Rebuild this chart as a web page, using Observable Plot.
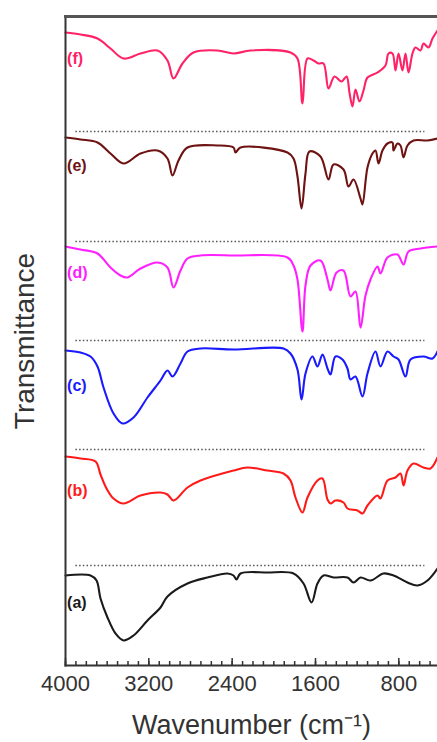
<!DOCTYPE html>
<html><head><meta charset="utf-8">
<script src="https://cdn.jsdelivr.net/npm/d3@7"></script>
<script src="https://cdn.jsdelivr.net/npm/@observablehq/plot@0.6"></script>
<style>body{margin:0;background:#fff}</style>
</head><body><div id="chart"></div>
<script>
// FTIR spectra, transmittance in arbitrary (stacked) units
const wnA = [4000,3760,3702,3664,3597,3520,3443,3347,3213,3088,3021,2829,2637,2445,2387,2358,2320,2061,1811,1715,1638,1581,1523,1427,1293,1235,1168,1072,947,851,717,621,525,429];
const tA  = [90,90,85,67,48,32,25,30,45,58,69,82,88,92,90,86,92,93,92,82,63,82,90,88,88,83,88,85,92,90,83,80,85,97];

const wnB = [4000,3856,3712,3664,3606,3539,3443,3280,3088,3021,2963,2829,2704,2387,2253,2061,1907,1840,1792,1725,1677,1581,1533,1485,1456,1408,1331,1293,1197,1149,1101,1005,976,909,832,784,755,717,659,563,496,429];
const tB  = [209,207,204,191,177,167,162,170,173,171,165,178,185,195,198,195,192,185,168,153,168,185,187,166,162,165,163,157,155,152,160,170,167,185,188,192,180,195,202,198,197,208];

const wnC = [4000,3856,3760,3693,3635,3539,3453,3347,3213,3088,3021,2973,2896,2829,2704,2387,1907,1840,1773,1734,1696,1629,1581,1533,1485,1456,1408,1341,1293,1264,1216,1149,1101,1024,976,909,851,803,736,688,563,477,429];
const tC  = [315,313,309,299,278,252,242,248,268,285,295,289,302,314,317,316,317,312,296,266,292,309,299,311,297,291,309,306,297,286,289,269,292,314,299,314,309,306,289,306,309,307,314];

const wnD = [4000,3856,3693,3568,3472,3405,3280,3117,3021,2963,2896,2829,2704,2387,1869,1811,1773,1725,1696,1648,1552,1485,1456,1398,1331,1264,1216,1168,1120,1072,1005,976,909,813,755,707,592,429];
const tD  = [419,416,412,398,390,388,397,403,398,378,395,407,410,410,408,400,386,334,380,400,405,386,375,393,395,369,374,338,370,386,399,392,408,411,401,414,417,419];

const wnE = [4000,3856,3693,3568,3443,3280,3117,3021,2973,2915,2829,2541,2387,2368,2320,1869,1811,1773,1734,1696,1658,1552,1475,1427,1331,1283,1235,1168,1149,1101,1053,1024,995,957,909,861,851,813,784,755,717,659,525,429];
const tE  = [528,526,523,512,502,512,515,507,490,505,518,520,518,513,518,513,507,489,457,492,514,509,486,501,496,479,486,467,461,498,512,515,502,515,522,523,515,522,520,508,520,525,525,527];

const wnF = [4000,3856,3693,3568,3443,3280,3117,3021,2963,2877,2771,2541,2387,2224,1840,1773,1725,1677,1619,1571,1523,1475,1418,1350,1302,1274,1245,1216,1178,1139,1101,1005,928,899,861,832,803,765,736,707,669,640,592,563,515,477,429];
const tF  = [633,631,627,617,607,612,615,605,587,602,613,615,612,615,613,607,562,607,605,602,602,577,589,584,589,573,559,576,564,575,588,593,600,612,612,595,612,595,612,593,612,618,615,622,618,627,635];

const seriesNames = ["(a)","(b)","(c)","(d)","(e)","(f)"];
const seriesColors = ["#1a1a1a","#ff1a1a","#1a1aff","#ff20ff","#6e1212","#ff2266"];
const labelY = [63,175,280,393,500,607];
const baselines = [100,216,325,424,534];
const majorTicks = [4000,3200,2400,1600,800];
const minorTicks = d3.range(4000,450,-100);

const wnAll = [wnA,wnB,wnC,wnD,wnE,wnF];
const tAll = [tA,tB,tC,tD,tE,tF];
const rows = [];
wnAll.forEach((wns,i)=>wns.forEach((w,j)=>rows.push({series:seriesNames[i], wn:w, t:tAll[i][j]})));
const labels = seriesNames.map((s,i)=>({series:s, y:labelY[i]}));

const font = "'Liberation Sans', Arial, Helvetica, sans-serif";

const chart = Plot.plot({
  width:437, height:742,
  marginTop:16, marginBottom:77, marginLeft:65, marginRight:0,
  style:{fontFamily:font, background:"#fff", color:"#333", overflow:"hidden"},
  x:{domain:[4000,400], range:[65,440], label:null},
  y:{domain:[0,649], axis:null, label:null},
  color:{domain:seriesNames, range:seriesColors},
  marks:[
    Plot.ruleY(baselines, {y:d=>d, x1:3900, x2:550, stroke:"#555", strokeWidth:1.3, strokeDasharray:"1.5,2.2"}),
    Plot.line(rows, {x:"wn", y:"t", z:"series", stroke:"series", strokeWidth:2.1, strokeLinejoin:"round", curve:"catmull-rom"}),
    Plot.text(labels, {x:3985, y:"y", text:"series", fill:"series", textAnchor:"start", fontSize:16, fontWeight:"bold"}),
    Plot.axisX({ticks:minorTicks, tickSize:-4, tickFormat:()=>"", label:null, strokeWidth:1.5, stroke:"#333"}),
    Plot.axisX({ticks:majorTicks, tickSize:-7, tickFormat:()=>"", label:null, strokeWidth:1.5, stroke:"#333"}),
    Plot.axisX({ticks:majorTicks, tickSize:0, tickPadding:10, fontSize:22, label:null, fill:"#333", tickFormat:d=>String(d)}),
    Plot.frame({anchor:"left", stroke:"#333", strokeWidth:2}),
    Plot.frame({anchor:"bottom", stroke:"#333", strokeWidth:2}),
    Plot.frame({anchor:"top", stroke:"#555", strokeWidth:3}),
    Plot.text(["Transmittance"], {frameAnchor:"left", dx:-40, rotate:-90, textAnchor:"middle", lineAnchor:"middle", fontSize:28, fill:"#333"}),
    Plot.text(["Wavenumber (cm⁻¹)"], {frameAnchor:"bottom", dy:60, textAnchor:"middle", lineAnchor:"middle", fontSize:27, fill:"#333"})
  ]
});
document.getElementById("chart").appendChild(chart);
</script>
</body></html>
